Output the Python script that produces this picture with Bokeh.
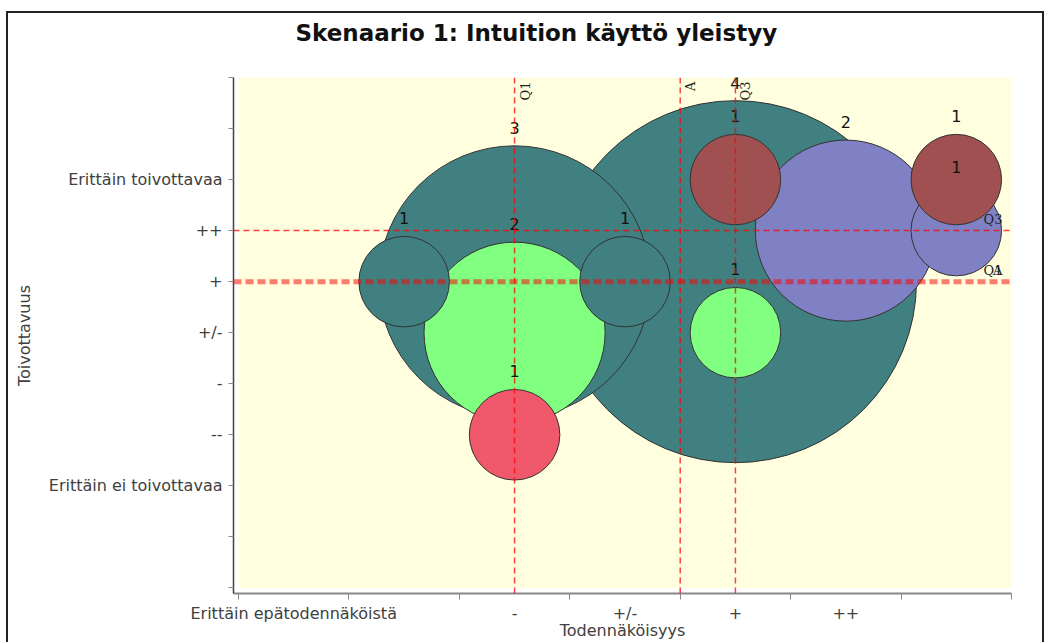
import math
from bokeh.plotting import figure
from bokeh.models import Range1d, FixedTicker, BoxAnnotation, Span, ColumnDataSource, Title
from bokeh.core.properties import value
from bokeh.embed import file_html
from bokeh.resources import INLINE

# ---------------- data ----------------
title_text = "Skenaario 1: Intuition käyttö yleistyy"
x_axis_title = "Todennäköisyys"
y_axis_title = "Toivottavuus"
x_labels = ["Erittäin epätodennäköistä", "", "-", "+/-", "+", "++", ""]
y_labels = ["Erittäin ei toivottavaa", "--", "-", "+/-", "+", "++", "Erittäin toivottavaa"]

bubble_x = [5, 3, 6, 3, 2, 4, 3, 5, 5, 7, 7]
bubble_y = [5, 5, 6, 4, 5, 5, 2, 4, 7, 6, 7]
bubble_count = [4, 3, 2, 2, 1, 1, 1, 1, 1, 1, 1]
bubble_series = ["s1", "s1", "s5", "s2", "s1", "s1", "s3", "s2", "s4", "s5", "s4"]

marker_names = ["Q1", "A", "Q3"]
x_markers = [3.0, 4.5, 5.0]
y_markers = [5.0, 5.0, 6.0]

# ---------------- styles / geometry ----------------
palette = {"s1": "#408080", "s2": "#80FF80", "s3": "#F0596B", "s4": "#A05050", "s5": "#8080C4"}
FW, FH = 778, 516
X0, X1 = 0.5 - 5 / 110.43, 7.5
Y0, Y1 = -1.11, 9.0
XPPU = FW / (X1 - X0)
YPPU = FH / (Y1 - Y0)
R_UNIT = 0.41  # bubble radius per count, x units

p = figure(frame_width=FW, frame_height=FH,
           min_border_left=233, min_border_right=33, min_border_top=77, min_border_bottom=48,
           x_range=Range1d(X0, X1), y_range=Range1d(Y0, Y1),
           output_backend="svg", toolbar_location=None, tools="")
p.background_fill_color = "white"
p.border_fill_color = "white"
p.border_fill_alpha = 0
p.outline_line_color = None
p.xgrid.visible = False
p.ygrid.visible = False
# outer chart border (drawn by the page element behind the transparent border area)
p.styles = {"background-color": "white",
            "box-shadow": "inset 3px 8px 0 3px #ffffff, inset 3px 8px 0 5px #222222"}

# title (with an empty spacer between it and the plot area)
p.add_layout(Title(text=" ", text_font_size="10px", standoff=12), "above")
p.title.text = title_text
p.title.align = "left"
p.title.offset = 62
p.title.standoff = 10
p.title.vertical_align = "top"
p.title.text_font = "DejaVu Sans"
p.title.text_font_style = "bold"
p.title.text_font_size = "23px"
p.title.text_color = "#111111"

# plot background (yellow area, offset from axes)
p.add_layout(BoxAnnotation(left=0.5, bottom=-1, fill_color="#FFFFE0", fill_alpha=1,
                           line_color=None, level="underlay"))

# bubbles
src = ColumnDataSource(dict(
    x=bubble_x, y=bubble_y, n=bubble_count,
    r=[c * R_UNIT for c in bubble_count],
    color=[palette[s] for s in bubble_series],
    label=[str(c) for c in bubble_count],
    ly=[y + (c * R_UNIT * XPPU + 18) / YPPU for y, c in zip(bubble_y, bubble_count)],
))
p.circle(x="x", y="y", radius="r", radius_dimension="x", source=src,
         fill_color="color", fill_alpha=1, line_color="#333333", line_width=1)
p.text(x="x", y="ly", text="label", source=src, text_align="center",
       text_baseline="alphabetic", text_font=value("DejaVu Sans"),
       text_font_size="16px", text_color="#111111")

# marker lines
for name, xv in zip(marker_names, x_markers):
    p.add_layout(Span(location=xv, dimension="height", line_color="#FF0000",
                      line_alpha=0.75, line_width=1.5, line_dash="6 4"))
for name, yv in zip(marker_names, y_markers):
    thick = name in ("Q1", "A")
    p.add_layout(Span(location=yv, dimension="width", line_color="#FF0000",
                      line_alpha=0.3 if thick else 0.75,
                      line_width=5 if thick else 1.5,
                      line_dash="8 4" if thick else "6 4"))

# marker labels
p.text(x=[xv + 3 / XPPU for xv in x_markers], y=[Y1 - 4 / YPPU] * len(x_markers),
       text=marker_names, angle=math.pi / 2, text_align="right", text_baseline="top",
       text_font=value("DejaVu Serif"), text_font_size="13px", text_color="#222222",
       level="overlay")
p.text(x=[X1 - 9 / XPPU] * len(y_markers), y=[yv + 4 / YPPU for yv in y_markers],
       text=marker_names, text_align="right", text_baseline="bottom",
       text_font=value("DejaVu Serif"), text_font_size="13px", text_color="#222222",
       level="overlay")

# axes
p.xaxis.ticker = FixedTicker(ticks=list(range(1, 8)),
                             minor_ticks=[i + 0.5 for i in range(0, 8)])
p.xaxis.major_label_overrides = {i + 1: lab for i, lab in enumerate(x_labels)}
p.xaxis.major_tick_line_color = None
p.xaxis.major_tick_out = 0
p.xaxis.major_tick_in = 0
p.xaxis.minor_tick_in = 0
p.xaxis.minor_tick_out = 6
p.xaxis.minor_tick_line_color = "#888888"
p.xaxis.axis_line_color = "#888888"
p.xaxis.axis_line_width = 2
p.xaxis.major_label_standoff = 4
p.xaxis.axis_label = x_axis_title
p.xaxis.axis_label_standoff = -5
p.xaxis.major_label_text_font = "DejaVu Sans"
p.xaxis.major_label_text_font_size = "16px"
p.xaxis.major_label_text_color = "#404040"
p.xaxis.axis_label_text_font = "DejaVu Sans"
p.xaxis.axis_label_text_font_size = "16px"
p.xaxis.axis_label_text_font_style = "normal"
p.xaxis.axis_label_text_color = "#404040"

y_over = {t: "" for t in range(-1, 10)}
y_over.update({i + 1: lab for i, lab in enumerate(y_labels)})
p.yaxis.ticker = FixedTicker(ticks=list(range(-1, 10)))
p.yaxis.major_label_overrides = y_over
p.yaxis.minor_tick_line_color = None
p.yaxis.major_tick_out = 5
p.yaxis.major_tick_in = 0
p.yaxis.major_tick_line_color = "#888888"
p.yaxis.axis_line_color = "#404040"
p.yaxis.axis_line_width = 1.5
p.yaxis.major_label_standoff = 6
p.yaxis.axis_label = y_axis_title
p.yaxis.axis_label_standoff = 12
p.yaxis.major_label_text_font = "DejaVu Sans"
p.yaxis.major_label_text_font_size = "16px"
p.yaxis.major_label_text_color = "#404040"
p.yaxis.axis_label_text_font = "DejaVu Sans"
p.yaxis.axis_label_text_font_size = "16px"
p.yaxis.axis_label_text_font_style = "normal"
p.yaxis.axis_label_text_color = "#404040"

open("out.html", "w").write(file_html(p, INLINE))
